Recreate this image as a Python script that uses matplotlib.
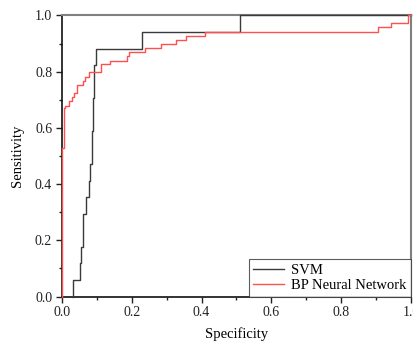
import matplotlib
matplotlib.use("Agg")
import matplotlib.pyplot as plt
from matplotlib.ticker import MultipleLocator

# ROC points (false-positive side on x, as labelled "Specificity")
svm_x = [0.032, 0.032, 0.051, 0.054, 0.061, 0.070, 0.077, 0.080, 0.085,
         0.090, 0.092, 0.099, 0.230, 0.510, 1.000]
svm_y = [0.000, 0.059, 0.118, 0.176, 0.294, 0.353, 0.412, 0.471, 0.588,
         0.706, 0.824, 0.882, 0.941, 1.000, 1.000]

bp_x = [0.000, 0.000, 0.006, 0.009, 0.021, 0.028, 0.034, 0.044, 0.059,
        0.066, 0.078, 0.111, 0.139, 0.187, 0.192, 0.237, 0.285, 0.328,
        0.356, 0.409, 0.907, 0.942, 0.992, 1.000]
bp_y = [0.000, 0.530, 0.670, 0.678, 0.696, 0.711, 0.725, 0.753, 0.768,
        0.782, 0.800, 0.827, 0.839, 0.856, 0.871, 0.883, 0.899, 0.913,
        0.927, 0.942, 0.958, 0.972, 1.000, 1.000]

plt.rcParams.update({
    "font.family": "Liberation Serif",
    "font.size": 10,
})

fig = plt.figure(figsize=(4.13, 3.42), dpi=100)
ax = fig.add_axes([0.150, 0.133, 0.845, 0.822])

ax.plot(svm_x, svm_y, drawstyle="steps-post", color="#3a3a3a", lw=1.0,
        label="SVM", clip_on=False, zorder=3)
ax.plot(bp_x, bp_y, drawstyle="steps-post", color="#ff5050", lw=1.0,
        label="BP Neural Network", clip_on=False, zorder=4)

ax.set_xlim(0, 1)
ax.set_ylim(0, 1)
ax.xaxis.set_major_locator(MultipleLocator(0.2))
ax.xaxis.set_minor_locator(MultipleLocator(0.1))
ax.yaxis.set_major_locator(MultipleLocator(0.2))
ax.yaxis.set_minor_locator(MultipleLocator(0.1))
ax.xaxis.set_major_formatter(matplotlib.ticker.FormatStrFormatter("%.1f"))
ax.yaxis.set_major_formatter(matplotlib.ticker.FormatStrFormatter("%.1f"))
ax.tick_params(which="major", direction="out", length=4, width=1,
               colors="#222222", labelsize=10, pad=3)
ax.tick_params(which="minor", direction="out", length=2, width=1,
               colors="#222222")

for s in ("left", "bottom"):
    ax.spines[s].set_color("#111111")
    ax.spines[s].set_linewidth(1.2)
for s in ("top", "right"):
    ax.spines[s].set_color("#808080")
    ax.spines[s].set_linewidth(1.5)

ax.set_xlabel("Specificity", fontsize=10.5, labelpad=6)
ax.set_ylabel("Sensitivity", fontsize=10.5, labelpad=8)

leg = ax.legend(loc="lower right", fontsize=10.5, frameon=True, fancybox=False,
                edgecolor="#333333", borderpad=0.3, handlelength=2.1,
                handletextpad=0.5, labelspacing=0.15, borderaxespad=0.0)
leg.get_frame().set_linewidth(0.8)

fig.savefig("out.png", dpi=100)
